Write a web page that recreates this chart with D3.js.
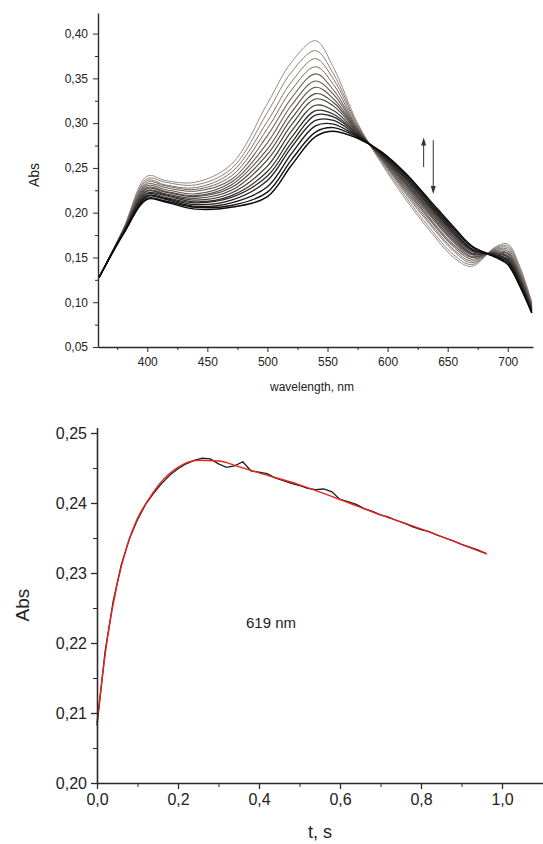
<!DOCTYPE html>
<html>
<head>
<meta charset="utf-8">
<title>Spectra and kinetics at 619 nm</title>
<script src="https://d3js.org/d3.v7.min.js"></script>
<style>
    body { margin: 0; background: #fff; }
    svg { display: block; font-family: "Liberation Sans", Arial, sans-serif; }
    .axis path, .axis line { stroke: #2b2b2b; }
    .axis text { fill: #222; }
</style>
</head>
<body>
<div id="chart"></div>
<script>
// ---- top panel: spectra (wavelength, nm -> Abs)
var wavelength = [360, 380, 400, 415, 440, 470, 500, 520, 540, 555, 575, 595, 615, 635, 655, 670, 690, 700, 710, 720];

var spec01 = [0.128, 0.182, 0.241, 0.236, 0.234, 0.254, 0.322, 0.368, 0.392, 0.362, 0.300, 0.255, 0.215, 0.180, 0.150, 0.140, 0.162, 0.165, 0.140, 0.100];
var spec02 = [0.128, 0.181, 0.238, 0.234, 0.231, 0.249, 0.312, 0.357, 0.381, 0.355, 0.298, 0.256, 0.218, 0.183, 0.153, 0.142, 0.161, 0.163, 0.138, 0.099];
var spec03 = [0.128, 0.181, 0.236, 0.231, 0.228, 0.245, 0.302, 0.346, 0.372, 0.349, 0.297, 0.258, 0.221, 0.187, 0.157, 0.144, 0.160, 0.161, 0.136, 0.098];
var spec04 = [0.128, 0.180, 0.234, 0.230, 0.226, 0.241, 0.294, 0.337, 0.363, 0.343, 0.295, 0.259, 0.223, 0.189, 0.159, 0.146, 0.159, 0.159, 0.134, 0.097];
var spec05 = [0.128, 0.180, 0.232, 0.228, 0.224, 0.237, 0.286, 0.328, 0.355, 0.337, 0.294, 0.260, 0.225, 0.192, 0.162, 0.148, 0.158, 0.157, 0.132, 0.096];
var spec06 = [0.128, 0.180, 0.230, 0.226, 0.221, 0.234, 0.278, 0.320, 0.347, 0.332, 0.293, 0.260, 0.227, 0.194, 0.164, 0.150, 0.157, 0.155, 0.131, 0.095];
var spec07 = [0.128, 0.179, 0.228, 0.224, 0.219, 0.231, 0.271, 0.312, 0.340, 0.327, 0.292, 0.261, 0.229, 0.197, 0.167, 0.151, 0.156, 0.154, 0.129, 0.094];
var spec08 = [0.128, 0.179, 0.227, 0.223, 0.218, 0.228, 0.265, 0.305, 0.333, 0.323, 0.291, 0.262, 0.231, 0.199, 0.169, 0.153, 0.155, 0.152, 0.128, 0.093];
var spec09 = [0.128, 0.178, 0.225, 0.221, 0.216, 0.225, 0.259, 0.298, 0.327, 0.319, 0.290, 0.263, 0.233, 0.201, 0.171, 0.154, 0.155, 0.151, 0.127, 0.093];
var spec10 = [0.128, 0.178, 0.224, 0.220, 0.214, 0.222, 0.252, 0.291, 0.320, 0.314, 0.289, 0.264, 0.234, 0.203, 0.173, 0.155, 0.154, 0.150, 0.125, 0.092];
var spec11 = [0.128, 0.178, 0.222, 0.219, 0.212, 0.219, 0.246, 0.284, 0.314, 0.310, 0.288, 0.265, 0.236, 0.205, 0.175, 0.157, 0.153, 0.148, 0.124, 0.091];
var spec12 = [0.128, 0.177, 0.221, 0.217, 0.211, 0.217, 0.241, 0.278, 0.309, 0.307, 0.287, 0.265, 0.238, 0.207, 0.177, 0.158, 0.153, 0.147, 0.123, 0.091];
var spec13 = [0.128, 0.177, 0.219, 0.216, 0.209, 0.214, 0.236, 0.273, 0.303, 0.303, 0.286, 0.266, 0.239, 0.208, 0.178, 0.159, 0.152, 0.146, 0.122, 0.090];
var spec14 = [0.128, 0.177, 0.218, 0.215, 0.207, 0.211, 0.229, 0.266, 0.297, 0.299, 0.285, 0.267, 0.241, 0.210, 0.180, 0.160, 0.151, 0.145, 0.120, 0.089];
var spec15 = [0.128, 0.176, 0.216, 0.213, 0.206, 0.208, 0.223, 0.259, 0.290, 0.295, 0.284, 0.267, 0.243, 0.212, 0.182, 0.162, 0.151, 0.143, 0.119, 0.088];
var spec16 = [0.128, 0.176, 0.215, 0.212, 0.204, 0.206, 0.218, 0.253, 0.285, 0.291, 0.283, 0.268, 0.244, 0.214, 0.184, 0.163, 0.150, 0.142, 0.118, 0.088];

var spectra = [spec01, spec02, spec03, spec04, spec05, spec06, spec07, spec08,
               spec09, spec10, spec11, spec12, spec13, spec14, spec15, spec16];

var topXTicks = [400, 450, 500, 550, 600, 650, 700];
var topYTicks = [0.05, 0.10, 0.15, 0.20, 0.25, 0.30, 0.35, 0.40];

// ---- bottom panel: kinetics at 619 nm (t, s -> Abs)
var time = [0.00, 0.02, 0.04, 0.06, 0.08, 0.10, 0.12, 0.14, 0.16, 0.18,
            0.20, 0.22, 0.24, 0.26, 0.28, 0.30, 0.32, 0.34, 0.36, 0.38,
            0.40, 0.42, 0.44, 0.46, 0.48, 0.50, 0.52, 0.54, 0.56, 0.58,
            0.60, 0.62, 0.64, 0.66, 0.68, 0.70, 0.72, 0.74, 0.76, 0.78,
            0.80, 0.82, 0.84, 0.86, 0.88, 0.90, 0.92, 0.94, 0.96];
var absMeasured = [0.2082, 0.2188, 0.2260, 0.2312, 0.2349, 0.2376, 0.2398, 0.2414, 0.2428, 0.2440,
                   0.2449, 0.2456, 0.2461, 0.2464, 0.2463, 0.2456, 0.2451, 0.2453, 0.2459, 0.2446,
                   0.2444, 0.2442, 0.2436, 0.2432, 0.2428, 0.2425, 0.2421, 0.2419, 0.2420, 0.2416,
                   0.2405, 0.2402, 0.2398, 0.2392, 0.2388, 0.2383, 0.2380, 0.2375, 0.2371, 0.2366,
                   0.2362, 0.2359, 0.2354, 0.2350, 0.2346, 0.2341, 0.2337, 0.2333, 0.2328];

var fitTime = [0, 0.025, 0.05, 0.075, 0.1, 0.125, 0.15, 0.175, 0.2, 0.25, 0.3, 0.35, 0.4, 0.5, 0.6, 0.7, 0.8, 0.9, 0.963];
var absFit  = [0.2086, 0.2204, 0.2285, 0.2340, 0.2378, 0.2403, 0.2424, 0.2440, 0.2451, 0.2461, 0.2460, 0.2452, 0.2443, 0.2426, 0.2405, 0.2383, 0.2363, 0.2341, 0.2327];

var botXTicks = [0.0, 0.2, 0.4, 0.6, 0.8, 1.0];
var botYTicks = [0.20, 0.21, 0.22, 0.23, 0.24, 0.25];

var W = 543, H = 844;

// decimal comma like the original
function comma(digits) {
    var f = d3.format("." + digits + "f");
    return function (d) { return f(d).replace(".", ","); };
}

var svg = d3.select("#chart")
    .append("svg")
    .attr("width", W)
    .attr("height", H);

svg.append("rect").attr("width", W).attr("height", H).attr("fill", "#fff");

// ================= top panel =================
var x1 = d3.scaleLinear().domain([359, 721]).range([98, 533]);
var y1 = d3.scaleLinear().domain([0.05, 0.423]).range([347, 13]);

var panelA = svg.append("g");

var specColor = d3.interpolateRgb("#8c7d77", "#0a0a0a");
var specLine = d3.line()
    .x(function (d, i) { return x1(wavelength[i]); })
    .y(function (d) { return y1(d); })
    .curve(d3.curveCatmullRom.alpha(0.5));

panelA.selectAll("path.spec")
    .data(spectra)
    .enter()
    .append("path")
    .attr("class", "spec")
    .attr("fill", "none")
    .attr("stroke", function (d, i) { return specColor(i / (spectra.length - 1)); })
    .attr("stroke-width", function (d, i) { return 0.9 + 0.5 * i / (spectra.length - 1); })
    .attr("d", specLine);

// minor ticks first, then the labelled axis on top
panelA.append("g")
    .attr("class", "axis")
    .attr("transform", "translate(0,347)")
    .call(d3.axisBottom(x1).tickValues(d3.range(375, 721, 50)).tickSize(3).tickFormat(""))
    .call(function (g) { g.select(".domain").remove(); });
panelA.append("g")
    .attr("class", "axis")
    .attr("transform", "translate(98,0)")
    .call(d3.axisLeft(y1).tickValues(d3.range(0.075, 0.42, 0.05)).tickSize(3).tickFormat(""))
    .call(function (g) { g.select(".domain").remove(); });

panelA.append("g")
    .attr("class", "axis")
    .attr("transform", "translate(0,347)")
    .call(d3.axisBottom(x1).tickValues(topXTicks).tickSize(5).tickSizeOuter(0).tickPadding(5))
    .call(function (g) {
        g.select(".domain").attr("stroke-width", 1.4);
        g.selectAll("text").style("font-size", "12px");
    });
panelA.append("g")
    .attr("class", "axis")
    .attr("transform", "translate(98,0)")
    .call(d3.axisLeft(y1).tickValues(topYTicks).tickFormat(comma(2)).tickSize(5).tickSizeOuter(0).tickPadding(5))
    .call(function (g) {
        g.select(".domain").attr("stroke-width", 1.4);
        g.selectAll("text").style("font-size", "12px");
    });

panelA.append("text")
    .attr("transform", "translate(39,175)rotate(-90)")
    .attr("text-anchor", "middle")
    .style("font-size", "14px")
    .attr("fill", "#222")
    .text("Abs");

panelA.append("text")
    .attr("x", 312)
    .attr("y", 391)
    .attr("text-anchor", "middle")
    .style("font-size", "12px")
    .attr("fill", "#222")
    .text("wavelength, nm");

// up / down arrows showing direction of change
function arrow(g, wl, from, to) {
    var xa = x1(wl), ya = y1(from), yb = y1(to);
    var dir = yb < ya ? -1 : 1;
    g.append("line")
        .attr("x1", xa).attr("y1", ya)
        .attr("x2", xa).attr("y2", yb - dir * 6)
        .attr("stroke", "#333").attr("stroke-width", 1);
    g.append("path")
        .attr("d", "M" + (xa - 2.5) + "," + (yb - dir * 8) + "L" + (xa + 2.5) + "," + (yb - dir * 8) + "L" + xa + "," + yb + "Z")
        .attr("fill", "#333");
}
arrow(panelA, 630, 0.251, 0.284);
arrow(panelA, 638, 0.281, 0.221);

// ================= bottom panel =================
var x2 = d3.scaleLinear().domain([0, 1.1]).range([97, 542.5]);
var y2 = d3.scaleLinear().domain([0.20, 0.2508]).range([783, 427.4]);

var panelB = svg.append("g");

panelB.append("path")
    .datum(absMeasured)
    .attr("fill", "none")
    .attr("stroke", "#1d1d1d")
    .attr("stroke-width", 1.3)
    .attr("d", d3.line()
        .x(function (d, i) { return x2(time[i]); })
        .y(function (d) { return y2(d); }));

panelB.append("path")
    .datum(absFit)
    .attr("fill", "none")
    .attr("stroke", "#e3231f")
    .attr("stroke-width", 1.4)
    .attr("d", d3.line()
        .x(function (d, i) { return x2(fitTime[i]); })
        .y(function (d) { return y2(d); })
        .curve(d3.curveMonotoneX));

panelB.append("g")
    .attr("class", "axis")
    .attr("transform", "translate(0,783)")
    .call(d3.axisBottom(x2).tickValues(d3.range(0.1, 1.05, 0.2)).tickSize(4).tickFormat(""))
    .call(function (g) { g.select(".domain").remove(); });
panelB.append("g")
    .attr("class", "axis")
    .attr("transform", "translate(97,0)")
    .call(d3.axisLeft(y2).tickValues(d3.range(0.205, 0.25, 0.01)).tickSize(4).tickFormat(""))
    .call(function (g) { g.select(".domain").remove(); });

panelB.append("g")
    .attr("class", "axis")
    .attr("transform", "translate(0,783)")
    .call(d3.axisBottom(x2).tickValues(botXTicks).tickFormat(comma(1)).tickSize(6).tickSizeOuter(0).tickPadding(5))
    .call(function (g) {
        g.select(".domain").attr("stroke-width", 1.6);
        g.selectAll("line").attr("stroke-width", 1.3);
        g.selectAll("text").style("font-size", "16px");
    });
panelB.append("g")
    .attr("class", "axis")
    .attr("transform", "translate(97,0)")
    .call(d3.axisLeft(y2).tickValues(botYTicks).tickFormat(comma(2)).tickSize(6).tickSizeOuter(0).tickPadding(4))
    .call(function (g) {
        g.select(".domain").attr("stroke-width", 1.6);
        g.selectAll("line").attr("stroke-width", 1.3);
        g.selectAll("text").style("font-size", "16px");
    });

panelB.append("text")
    .attr("transform", "translate(29,605)rotate(-90)")
    .attr("text-anchor", "middle")
    .style("font-size", "19px")
    .attr("fill", "#222")
    .text("Abs");

panelB.append("text")
    .attr("x", 320)
    .attr("y", 838)
    .attr("text-anchor", "middle")
    .style("font-size", "18px")
    .attr("fill", "#222")
    .text("t, s");

panelB.append("text")
    .attr("x", 271)
    .attr("y", 628)
    .attr("text-anchor", "middle")
    .style("font-size", "15px")
    .attr("fill", "#222")
    .text("619 nm");
</script>
</body>
</html>
